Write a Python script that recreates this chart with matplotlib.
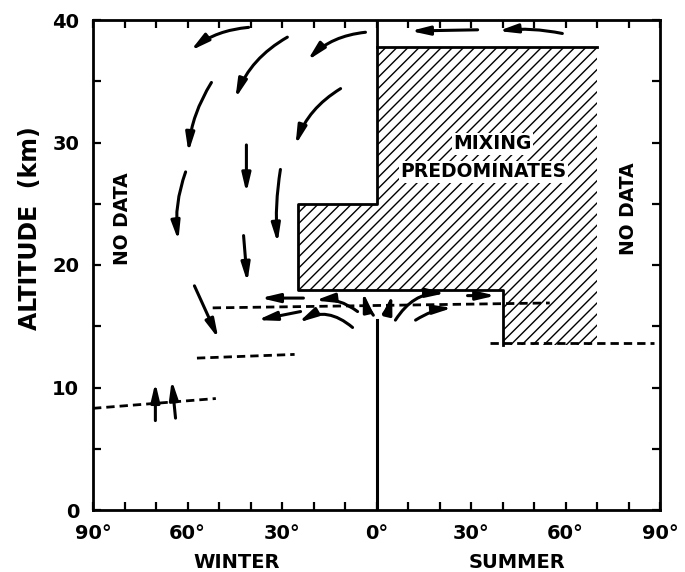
import matplotlib
matplotlib.use('Agg')
import matplotlib.pyplot as plt
from matplotlib.patches import Polygon, FancyArrowPatch

# latitude in degrees (winter side negative), altitude in km
mix_lat = [0, 70, 70, 40, 40, -25, -25, 0]
mix_alt = [37.8, 37.8, 13.5, 13.5, 18, 18, 25, 25]

# solid outlines
top_lat, top_alt = [70, 0], [37.8, 37.8]
step_lat = [0, 0, -25, -25, 40, 40]
step_alt = [40, 25, 25, 18, 18, 13.5]
eq_lat, eq_alt = [0, 0], [0, 15.5]

# dashed tropopause pieces
trop_lat = [[-90, -51], [-57, -26], [-52, 55], [36, 88]]
trop_alt = [[8.3, 9.1], [12.4, 12.7], [16.5, 16.9], [13.6, 13.6]]

# flow arrows: start, end, curvature
arr_x0 = [-40.6, -28.3, -3.5, -52.4, -11.4, -41.3, -60.6, -30.5, -42.2, -57.8,
          -23.2, -6.0, -24.1, -7.6, -1.0, 2.2, 6.0, 12.4, 28.9, 32.1, 59.0,
          -70.2, -63.8]
arr_y0 = [39.4, 38.6, 39.0, 34.9, 34.4, 29.8, 27.6, 27.8, 22.4, 18.3,
          17.3, 16.2, 16.2, 14.9, 15.9, 16.0, 15.5, 15.5, 17.5, 39.2, 38.9,
          7.3, 7.5]
arr_x1 = [-59.0, -44.8, -21.9, -59.7, -25.7, -41.3, -62.9, -31.4, -41.0, -50.2,
          -36.8, -19.5, -37.8, -24.8, -4.3, 5.0, 21.9, 24.1, 37.8, 10.8, 38.7,
          -70.2, -65.0]
arr_y1 = [37.5, 33.6, 36.7, 29.2, 29.8, 25.9, 22.0, 21.8, 18.6, 14.0,
          17.3, 17.1, 15.5, 15.3, 17.8, 17.6, 17.7, 16.5, 17.5, 39.1, 39.1,
          10.4, 10.6]
arr_rad = [0.15, 0.18, 0.18, 0.12, 0.18, 0, 0.12, 0.06, 0, 0,
           0, 0.2, 0, 0.35, -0.1, 0.1, -0.28, -0.12, 0, 0, 0.08,
           0, 0]

xtick_pos = [-90, -60, -30, 0, 30, 60, 90]
xtick_lab = ['90°', '60°', '30°', '0°', '30°', '60°', '90°']
ytick_pos = [0, 10, 20, 30, 40]

plt.rcParams['font.family'] = 'DejaVu Sans'
plt.rcParams['font.weight'] = 'bold'

fig = plt.figure(figsize=(6.85, 5.72), dpi=100)
ax = fig.add_axes([93/685, 62/572, 567/685, 490/572])
ax.set_xlim(-90, 90)
ax.set_ylim(0, 40)

# hatched region
ax.add_patch(Polygon(list(zip(mix_lat, mix_alt)), closed=True, facecolor='white',
                     edgecolor='black', linewidth=0, hatch='///', zorder=1))

ax.plot(top_lat, top_alt, color='black', lw=2, zorder=3)
ax.plot(step_lat, step_alt, color='black', lw=2, zorder=3)
ax.plot(eq_lat, eq_alt, color='black', lw=2.2, zorder=3)

for xs, ys in zip(trop_lat, trop_alt):
    ax.plot(xs, ys, color='black', lw=2, linestyle=(0, (3, 1.8)), zorder=3)

for x0, y0, x1, y1, r in zip(arr_x0, arr_y0, arr_x1, arr_y1, arr_rad):
    ar = FancyArrowPatch((x0, y0), (x1, y1),
                         arrowstyle='-|>,head_length=0.55,head_width=0.13',
                         connectionstyle=f'arc3,rad={r}',
                         mutation_scale=20, lw=2.2, color='black',
                         shrinkA=0, shrinkB=0, zorder=4)
    ax.add_patch(ar)

# labels
ax.text(-80.6, 23.8, 'NO DATA', rotation=90, ha='center', va='center', fontsize=13.5)
ax.text(80, 24.6, 'NO DATA', rotation=90, ha='center', va='center', fontsize=13.5)
bb = dict(facecolor='white', edgecolor='none', pad=1)
ax.text(36.7, 29.9, 'MIXING', ha='center', va='center', fontsize=13.5, bbox=bb, zorder=5)
ax.text(34, 27.6, 'PREDOMINATES', ha='center', va='center', fontsize=13.5, bbox=bb, zorder=5)

fig.text(30/685, 1 - 228/572, 'ALTITUDE  (km)', rotation=90, ha='center', va='center',
         fontsize=17)
fig.text(237/685, 1 - 562/572, 'WINTER', ha='center', va='center', fontsize=14)
fig.text(517/685, 1 - 562/572, 'SUMMER', ha='center', va='center', fontsize=14)

# ticks
ax.set_xticks(xtick_pos)
ax.set_xticklabels(xtick_lab)
ax.set_xticks(range(-90, 91, 10), minor=True)
ax.set_yticks(ytick_pos)
ax.set_yticks(range(0, 41, 5), minor=True)
ax.tick_params(which='both', direction='in', length=6, width=1.6,
               top=True, right=True, labelsize=14, pad=10)
for sp in ax.spines.values():
    sp.set_linewidth(2)

fig.savefig('out.png', dpi=100)
